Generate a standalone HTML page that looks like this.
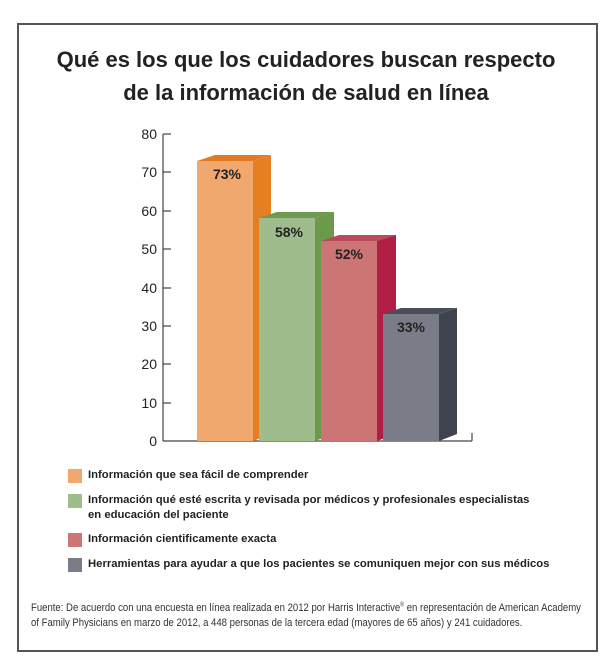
<!DOCTYPE html>
<html><head><meta charset="utf-8"><style>
body{margin:0;width:612px;height:662px;background:#fff;position:relative;font-family:"Liberation Sans",sans-serif;color:#222;overflow:hidden}
.box{position:absolute;left:17px;top:23px;width:577px;height:625px;border:2px solid #555;box-sizing:content-box}
.title{position:absolute;left:0;width:612px;text-align:center;font-weight:bold;font-size:22px;color:#222}
.leg{position:absolute;left:68px;width:14px;height:14px}
.lt{position:absolute;left:88px;font-size:11.3px;font-weight:bold;line-height:15px;color:#222}
.fn{position:absolute;left:31px;font-family:"Liberation Sans",sans-serif;font-size:10.8px;color:#333;white-space:nowrap;transform:scaleX(0.885);transform-origin:0 0}
</style></head><body>
<div class="box"></div>
<div class="title" style="top:47px">Qué es los que los cuidadores buscan respecto</div>
<div class="title" style="top:80px">de la información de salud en línea</div>
<svg width="612" height="662" style="position:absolute;left:0;top:0" font-family="Liberation Sans, sans-serif">
<g stroke="#444" stroke-width="1.2">
<line x1="163" y1="134" x2="163" y2="441"/>
<line x1="163" y1="441" x2="472" y2="441"/>
<line x1="472" y1="441" x2="472" y2="433"/>
<line x1="163" y1="134" x2="171" y2="134"/><line x1="163" y1="172" x2="171" y2="172"/>
<line x1="163" y1="211" x2="171" y2="211"/><line x1="163" y1="249" x2="171" y2="249"/>
<line x1="163" y1="288" x2="171" y2="288"/><line x1="163" y1="326" x2="171" y2="326"/>
<line x1="163" y1="364" x2="171" y2="364"/><line x1="163" y1="403" x2="171" y2="403"/>
</g>
<g font-size="14" fill="#222" text-anchor="end">
<text x="157" y="139">80</text><text x="157" y="177">70</text><text x="157" y="216">60</text>
<text x="157" y="254">50</text><text x="157" y="293">40</text><text x="157" y="331">30</text>
<text x="157" y="369">20</text><text x="157" y="408">10</text><text x="157" y="446">0</text>
</g>
<polygon points="197,161 215,155 271,155 253,161" fill="#e07b22"/>
<polygon points="253,161 271,155 271,434 253,441" fill="#e67f22"/>
<rect x="197" y="161" width="56" height="280" fill="#f0a86e"/>
<polygon points="259,218 277,212 334,212 315,218" fill="#6e9a50"/>
<polygon points="315,218 334,212 334,434 315,441" fill="#6a9a4a"/>
<rect x="259" y="218" width="56" height="223" fill="#9fbd8c"/>
<polygon points="321,241 339,235 396,235 377,241" fill="#b84a5a"/>
<polygon points="377,241 396,235 396,434 377,441" fill="#b01e44"/>
<rect x="321" y="241" width="56" height="200" fill="#cd7474"/>
<polygon points="383,314 401,308 457,308 439,314" fill="#4a4e58"/>
<polygon points="439,314 457,308 457,434 439,441" fill="#3f434d"/>
<rect x="383" y="314" width="56" height="127" fill="#7a7d88"/>
<g font-size="14" font-weight="bold" fill="#222" text-anchor="middle">
<text x="227" y="179">73%</text><text x="289" y="237">58%</text>
<text x="349" y="259">52%</text><text x="411" y="332">33%</text>
</g>
</svg>
<div class="leg" style="top:469px;background:#f0a86e"></div>
<div class="lt" style="top:468px">Información que sea fácil de comprender</div>
<div class="leg" style="top:494px;background:#9fbd8c"></div>
<div class="lt" style="top:493px">Información qué esté escrita y revisada por médicos y profesionales especialistas<br>en educación del paciente</div>
<div class="leg" style="top:533px;background:#cd7474"></div>
<div class="lt" style="top:532px">Información cientificamente exacta</div>
<div class="leg" style="top:558px;background:#7a7d88"></div>
<div class="lt" style="top:557px">Herramientas para ayudar a que los pacientes se comuniquen mejor con sus médicos</div>
<div class="fn" style="top:602px">Fuente: De acuerdo con una encuesta en línea realizada en 2012 por Harris Interactive<sup style="font-size:6px">®</sup> en representación de American Academy</div>
<div class="fn" style="top:617px">of Family Physicians en marzo de 2012, a 448 personas de la tercera edad (mayores de 65 años) y 241 cuidadores.</div>
</body></html>
